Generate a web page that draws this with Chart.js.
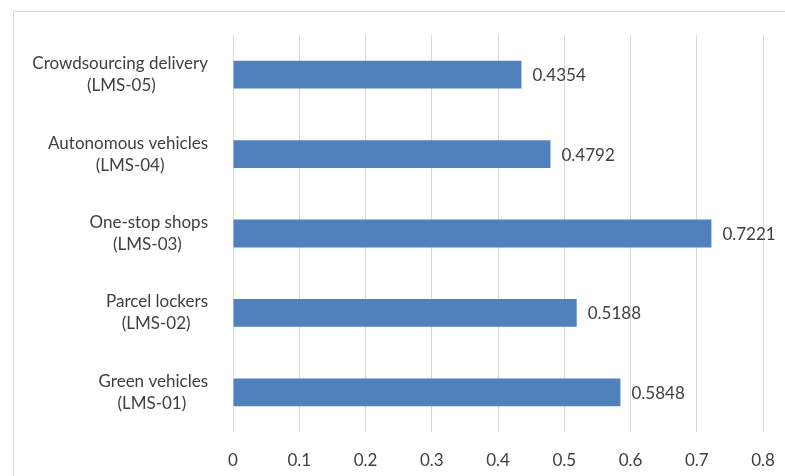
<!DOCTYPE html>
<html>
<head>
<meta charset="utf-8">
<script src="https://cdn.jsdelivr.net/npm/chart.js@4"></script>
<style>
  html, body { margin: 0; padding: 0; background: #fff; }
  #wrap { position: relative; width: 785px; height: 476px; overflow: hidden; }
  #frame { position: absolute; left: 13px; top: 11px; width: 800px; height: 500px; border: 1px solid #d9d9d9; box-sizing: border-box; pointer-events: none; }
</style>
</head>
<body>
<div id="wrap">
  <canvas id="chart" width="785" height="476"></canvas>
  <div id="frame"></div>
</div>
<script>
// Data (top to bottom as displayed)
const categoryNames = ['Crowdsourcing delivery', 'Autonomous vehicles', 'One-stop shops', 'Parcel lockers', 'Green vehicles'];
const categoryCodes = ['(LMS-05)', '(LMS-04)', '(LMS-03)', '(LMS-02)', '(LMS-01)'];
const values = [0.4354, 0.4792, 0.7221, 0.5188, 0.5848];
const xTicks = [0, 0.1, 0.2, 0.3, 0.4, 0.5, 0.6, 0.7, 0.8];

const FONT = 'Lato';
const FONT_SIZE = 17;
const TEXT_COLOR = '#404040';

// Center the two lines of a label on each other by padding the shorter one with spaces
const measureCtx = document.createElement('canvas').getContext('2d');
function centeredLines(a, b) {
  const wa = measureCtx.measureText(a).width;
  const wb = measureCtx.measureText(b).width;
  const sp = measureCtx.measureText(' ').width;
  const n = Math.round(Math.abs(wa - wb) / 2 / sp);
  const pad = ' '.repeat(n);
  return wa > wb ? [a, b + pad] : [a + pad, b];
}

// Value labels at bar ends
const valueLabels = {
  id: 'valueLabels',
  afterDatasetsDraw(chart) {
    const ctx = chart.ctx;
    const meta = chart.getDatasetMeta(0);
    ctx.save();
    ctx.font = FONT_SIZE + 'px ' + FONT;
    ctx.fillStyle = TEXT_COLOR;
    ctx.textAlign = 'left';
    ctx.textBaseline = 'middle';
    meta.data.forEach((bar, i) => {
      ctx.fillText(values[i].toFixed(4), bar.x + 11, bar.y + 1);
    });
    ctx.restore();
  }
};

document.fonts.load(FONT_SIZE + 'px ' + FONT).then(() => {
  measureCtx.font = FONT_SIZE + 'px ' + FONT;
  const labels = categoryNames.map((name, i) => centeredLines(name, categoryCodes[i]));
  new Chart(document.getElementById('chart'), {
    type: 'bar',
    data: {
      labels: labels,
      datasets: [{
        data: values,
        backgroundColor: '#4f81bd',
        borderWidth: 0,
        categoryPercentage: 1,
        barPercentage: 0.35
      }]
    },
    options: {
      indexAxis: 'y',
      responsive: false,
      animation: false,
      layout: { padding: { top: 35, right: 22, left: 0, bottom: 0 } },
      plugins: { legend: { display: false }, tooltip: { enabled: false } },
      scales: {
        x: {
          min: 0,
          max: 0.8,
          afterBuildTicks: scale => { scale.ticks = xTicks.map(v => ({ value: v })); },
          afterFit: scale => {
            scale.height = 44;
            scale.paddingLeft = 0;
            scale.paddingRight = 0;
          },
          grid: { color: '#d9d9d9', lineWidth: 1, drawTicks: false },
          border: { display: false },
          ticks: {
            padding: 18,
            color: TEXT_COLOR,
            font: { family: FONT, size: FONT_SIZE },
            callback: v => String(Math.round(v * 10) / 10)
          }
        },
        y: {
          afterFit: scale => {
            scale.width = 233;
            scale.paddingTop = 0;
            scale.paddingBottom = 0;
          },
          grid: { display: false },
          border: { display: false },
          ticks: {
            padding: 17,
            color: TEXT_COLOR,
            font: { family: FONT, size: FONT_SIZE, lineHeight: 1.3 }
          }
        }
      }
    },
    plugins: [valueLabels]
  });
});
</script>
</body>
</html>
